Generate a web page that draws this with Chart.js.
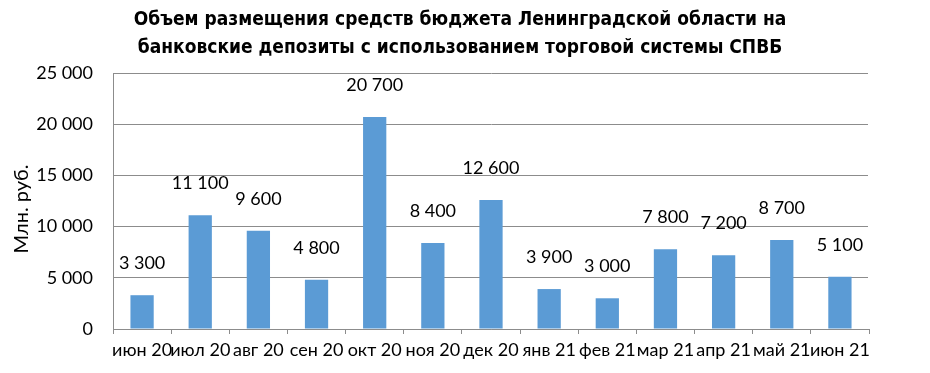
<!DOCTYPE html>
<html lang="ru">

<head>
    <meta charset="UTF-8">
    <title>Объем размещения средств бюджета</title>
    <script src="https://cdn.jsdelivr.net/npm/chart.js"></script>
    <style>
        body { margin: 0; background: #fff; }
    </style>
</head>

<body>
    <canvas id="grafico" width="930" height="373"></canvas>
</body>

</html>
<script>
    const meses = ['июн 20', 'июл 20', 'авг 20', 'сен 20', 'окт 20', 'ноя 20', 'дек 20',
        'янв 21', 'фев 21', 'мар 21', 'апр 21', 'май 21', 'июн 21']
    const valores = [3300, 11100, 9600, 4800, 20700, 8400, 12600, 3900, 3000, 7800, 7200, 8700, 5100]
    const titulo = ['Объем размещения средств бюджета Ленинградской области на',
        'банковские депозиты с использованием торговой системы СПВБ']
    const eixoY = 'Млн. руб.'

    function milhar(v) {
        return String(v).replace(/\B(?=(\d{3})+(?!\d))/g, ' ')
    }

    const fonte = 'Lato, "Open Sans", sans-serif'

    // títulos e rótulos desenhados à mão
    const textos = {
        id: 'textos',
        afterDraw(chart) {
            const ctx = chart.ctx
            const area = chart.chartArea
            ctx.save()
            // apaga a linha vertical da direita (o original não tem)
            ctx.fillStyle = '#fff'
            ctx.fillRect(Math.round(area.right) - 1, area.top - 2, 3, area.bottom - area.top)
            ctx.fillStyle = '#000'
            ctx.textAlign = 'center'
            ctx.textBaseline = 'middle'
            ctx.font = 'bold 19px "Liberation Sans Narrow", "DejaVu Sans Condensed", sans-serif'
            titulo.forEach((linha, i) => ctx.fillText(linha, chart.width / 2 - 5, 20 + i * 28))
            ctx.font = '18px ' + fonte
            chart.getDatasetMeta(0).data.forEach((bar, i) => {
                ctx.fillText(milhar(valores[i]), bar.x, bar.y - 32)
            })
            ctx.translate(22, (area.top + area.bottom) / 2 + 8)
            ctx.rotate(-Math.PI / 2)
            ctx.font = '20px ' + fonte
            ctx.fillText(eixoY, 0, 0)
            ctx.restore()
        }
    }

    new Chart(grafico, {
        type: 'bar',
        data: {
            labels: meses,
            datasets: [{
                label: 'Объем',
                backgroundColor: '#5B9BD5',
                data: valores,
                barPercentage: 0.4,
                categoryPercentage: 1
            }]
        },
        options: {
            responsive: false,
            animation: false,
            devicePixelRatio: 1,
            layout: { padding: { left: 0, right: 61, top: 73, bottom: 0 } },
            plugins: {
                legend: { display: false },
                tooltip: { enabled: false }
            },
            scales: {
                x: {
                    grid: { drawOnChartArea: false, tickLength: 5, color: '#8c8c8c', offset: true },
                    border: { color: '#8c8c8c' },
                    ticks: { color: '#000', font: { family: fonte, size: 18 }, maxRotation: 0, autoSkip: false, padding: 5 },
                    afterFit(scale) { scale.height = 44 }
                },
                y: {
                    min: 0,
                    max: 25000,
                    ticks: { stepSize: 5000, color: '#000', font: { family: fonte, size: 18 }, padding: 20, callback: v => milhar(v) },
                    grid: { color: '#8c8c8c', drawTicks: false },
                    border: { color: '#8c8c8c' },
                    afterFit(scale) { scale.width = 113 }
                }
            }
        },
        plugins: [textos]
    })
</script>
